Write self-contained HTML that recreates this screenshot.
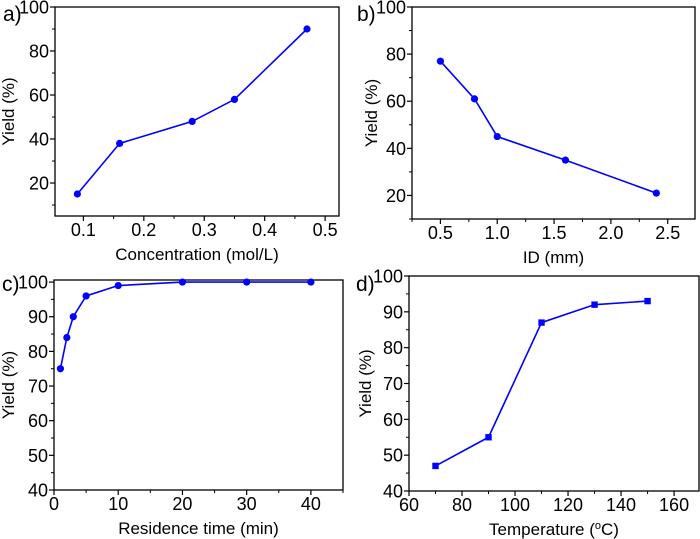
<!DOCTYPE html>
<html><head><meta charset="utf-8"><style>
html,body{margin:0;padding:0;background:#fff;width:700px;height:539px;overflow:hidden}
svg{display:block;font-family:"Liberation Sans",Arial,sans-serif}
</style></head><body>
<svg id="fig" width="700" height="539" viewBox="0 0 700 539"></svg>
<script>
// Panel a
const aX=[0.09,0.16,0.28,0.35,0.47];
const aY=[15,38,48,58,90];
const aXTicks=[0.1,0.2,0.3,0.4,0.5];
const aYTicks=[20,40,60,80,100];
// Panel b
const bX=[0.5,0.8,1.0,1.6,2.4];
const bY=[77,61,45,35,21];
const bXTicks=[0.5,1.0,1.5,2.0,2.5];
const bYTicks=[20,40,60,80,100];
// Panel c
const cX=[1,2,3,5,10,20,30,40];
const cY=[75,84,90,96,99,100,100,100];
const cXTicks=[0,10,20,30,40];
const cYTicks=[40,50,60,70,80,90,100];
// Panel d
const dX=[70,90,110,130,150];
const dY=[47,55,87,92,93];
const dXTicks=[60,80,100,120,140,160];
const dYTicks=[40,50,60,70,80,90,100];

const NS="http://www.w3.org/2000/svg";
const svg=document.getElementById('fig');
function mk(tag,attrs,parent){const e=document.createElementNS(NS,tag);for(const k in attrs)e.setAttribute(k,attrs[k]);(parent||svg).appendChild(e);return e;}

function panel(o){
  const g=mk('g',{});
  
  
  const sx=v=>o.x0+(v-o.xmin)/(o.xmax-o.xmin)*(o.x1-o.x0);
  const sy=v=>o.y1-(v-o.ymin)/(o.ymax-o.ymin)*(o.y1-o.y0);
  const box=mk('rect',{x:o.x0,y:o.y0,width:o.x1-o.x0,height:o.y1-o.y0,fill:'none',stroke:'#000','stroke-width':1.3},g);
  
  
  const xs=o.xTicks, xstep=xs[1]-xs[0];
  for(let i=0;i<xs.length;i++){
    const x=sx(xs[i]);
    mk('line',{x1:x,x2:x,y1:o.y1,y2:o.y1+5,stroke:'#000','stroke-width':1.2},g);
    const t=mk('text',{x:x,y:o.y1+20,'font-size':18,'text-anchor':'middle'},g);
    t.textContent=o.xFmt(xs[i]);
    
    
  }
  for(let v=xs[0]-xstep/2;v<=o.xmax+1e-9;v+=xstep){
    if(v<o.xmin-1e-9)continue;
    const x=sx(v);
    mk('line',{x1:x,x2:x,y1:o.y1,y2:o.y1+3,stroke:'#000','stroke-width':1},g);
  }
  const ys=o.yTicks, ystep=ys[1]-ys[0];
  for(let i=0;i<ys.length;i++){
    const y=sy(ys[i]);
    mk('line',{x1:o.x0-5,x2:o.x0,y1:y,y2:y,stroke:'#000','stroke-width':1.2},g);
    const t=mk('text',{x:o.x0-6,y:y+6.5,'font-size':18,'text-anchor':'end'},g);
    t.textContent=ys[i];
    
    
  }
  for(let v=ys[0]-ystep/2;v<=o.ymax+1e-9;v+=ystep){
    if(v<o.ymin-1e-9)continue;
    const y=sy(v);
    mk('line',{x1:o.x0-3,x2:o.x0,y1:y,y2:y,stroke:'#000','stroke-width':1},g);
  }
  const xt=mk('text',{x:(o.x0+o.x1)/2,y:o.y1+44,'font-size':17,'text-anchor':'middle'},g);
  xt.innerHTML=o.xTitle;
  
  
  const yt=mk('text',{x:0,y:0,'font-size':17,'text-anchor':'middle',transform:`translate(${o.ytx},${(o.y0+o.y1)/2}) rotate(-90)`},g);
  yt.textContent='Yield (%)';
  
  
  const lab=mk('text',{x:o.lx,y:o.ly,'font-size':21},g);
  lab.textContent=o.id+')';
  
  
  const pts=o.X.map((v,i)=>sx(v)+','+sy(o.Y[i])).join(' ');
  const line=mk('polyline',{points:pts,fill:'none',stroke:'#0000ff','stroke-width':1.6},g);
  
  
  o.X.forEach((v,i)=>{
    let m;
    if(o.square){m=mk('rect',{x:sx(v)-3.2,y:sy(o.Y[i])-3.2,width:6.4,height:6.4,fill:'#0000ff'},g);}
    else{m=mk('circle',{cx:sx(v),cy:sy(o.Y[i]),r:3.6,fill:'#0000ff'},g);}
    
    
  });
}
panel({id:'a',x0:55,x1:339,y0:7,y1:216,xmin:0.053,xmax:0.523,ymin:5,ymax:100,X:aX,Y:aY,xTicks:aXTicks,yTicks:aYTicks,xFmt:v=>v.toFixed(1),xTitle:'Concentration (mol/L)',ytx:14,lx:3,ly:21});
panel({id:'b',x0:412,x1:695,y0:7,y1:219,xmin:0.25,xmax:2.74,ymin:10,ymax:100,X:bX,Y:bY,xTicks:bXTicks,yTicks:bYTicks,xFmt:v=>v.toFixed(1),xTitle:'ID (mm)',ytx:377,lx:357,ly:21});
panel({id:'c',x0:54,x1:343,y0:280,y1:490,xmin:0,xmax:45,ymin:40,ymax:100.6,X:cX,Y:cY,xTicks:cXTicks,yTicks:cYTicks,xFmt:v=>v,xTitle:'Residence time (min)',ytx:14,lx:2,ly:291});
panel({id:'d',x0:409,x1:699,y0:276,y1:491,xmin:60,xmax:169.4,ymin:40,ymax:100,X:dX,Y:dY,xTicks:dXTicks,yTicks:dYTicks,xFmt:v=>v,xTitle:'Temperature (<tspan baseline-shift="super" font-size="11">o</tspan>C)',ytx:371,lx:356,ly:291,square:true});
</script>
</body></html>
